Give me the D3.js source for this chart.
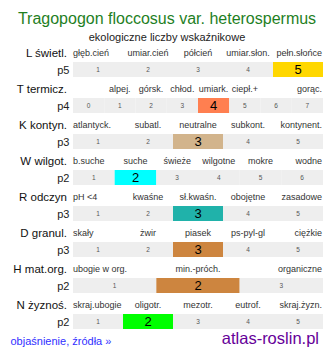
<!DOCTYPE html>
<html>
<head>
<meta charset="utf-8">
<script src="https://cdn.jsdelivr.net/npm/d3@7"></script>
<style>
  html, body { margin: 0; padding: 0; background: #fff; }
  svg { display: block; font-family: "Liberation Sans", Arial, sans-serif; }
</style>
</head>
<body>
<svg id="chart" width="334" height="358"></svg>
<script>
const title = "Tragopogon floccosus var. heterospermus";
const subtitle = "ekologiczne liczby wskaźnikowe";
const rowNames = ["L świetl.", "T termicz.", "K kontyn.", "W wilgot.", "R odczyn", "D granul.", "H mat.org.", "N żyznoś."];
const rowCodes = ["p5", "p4", "p3", "p2", "p3", "p3", "p2", "p2"];
const values = [5, 4, 3, 2, 3, 3, 2, 2];
const scaleMin = [1, 0, 1, 1, 1, 1, 1, 1];
const scaleMax = [5, 7, 5, 6, 5, 5, 3, 5];
const categoryLabels = [
  ["głęb.cień", "umiar.cień", "półcień", "umiar.słon.", "pełn.słońce"],
  ["", "alpej.", "górsk.", "chłod.", "umiark.", "ciepł.+", "", "gorąc."],
  ["atlantyck.", "subatl.", "neutralne", "subkont.", "kontynent."],
  ["b.suche", "suche", "świeże", "wilgotne", "mokre", "wodne"],
  ["pH <4", "kwaśne", "sł.kwaśn.", "obojętne", "zasadowe"],
  ["skały", "żwir", "piasek", "ps-pyl-gl", "ciężkie"],
  ["ubogie w org.", "min.-próch.", "organiczne"],
  ["skraj.ubogie", "oligotr.", "mezotr.", "eutrof.", "skraj.żyzn."]
];
const highlightColors = ["#ffd700", "#ff7f50", "#d2b48c", "#00ffff", "#20b2aa", "#cd853f", "#cd853f", "#00ff00"];
const footerLink = "objaśnienie, źródła »";
const footerSite = "atlas-roslin.pl";

const svg = d3.select("#chart");
const x0 = 73, x1 = 323, barH = 15;
const rowY = d3.scaleLinear().domain([0, 1]).range([62, 98]);

svg.append("text").attr("x", 167).attr("y", 24).attr("text-anchor", "middle")
  .attr("font-size", 16).attr("fill", "#1f7f1f").text(title);
svg.append("text").attr("x", 167).attr("y", 41).attr("text-anchor", "middle")
  .attr("font-size", 11).attr("fill", "#222").text(subtitle);

rowNames.forEach((name, i) => {
  const y = rowY(i);
  const dom = d3.range(scaleMin[i], scaleMax[i] + 1);
  const xs = d3.scaleBand().domain(dom).range([x0, x1]).padding(0);
  const g = svg.append("g");

  g.append("text").attr("x", 67).attr("y", y - 5).attr("text-anchor", "end")
    .attr("font-size", 11.5).attr("fill", "#111").text(name);
  g.append("text").attr("x", 69.5).attr("y", y + 12).attr("text-anchor", "end")
    .attr("font-size", 11).attr("fill", "#222").text(rowCodes[i]);

  const labs = categoryLabels[i];
  g.selectAll("text.cat").data(labs).enter().append("text")
    .attr("class", "cat")
    .attr("x", (d, j) => j === 0 ? x0 : (j === labs.length - 1 ? x1 - 1 : xs(dom[j]) + xs.bandwidth() / 2))
    .attr("text-anchor", (d, j) => j === 0 ? "start" : (j === labs.length - 1 ? "end" : "middle"))
    .attr("y", y - 6).attr("font-size", 9).attr("fill", "#333").text(d => d);

  g.selectAll("rect").data(dom).enter().append("rect")
    .attr("x", d => xs(d)).attr("y", y).attr("width", xs.bandwidth()).attr("height", barH)
    .attr("fill", d => d === values[i] ? highlightColors[i] : "#eeeeee");

  g.selectAll("text.num").data(dom).enter().append("text")
    .attr("class", "num")
    .attr("x", d => xs(d) + xs.bandwidth() / 2)
    .attr("y", d => d === values[i] ? y + 12 : y + 10)
    .attr("text-anchor", "middle")
    .attr("font-size", d => d === values[i] ? 13 : 6.5)
    .attr("fill", d => d === values[i] ? "#000" : "#555")
    .text(d => d);
});

svg.append("text").attr("x", 10.5).attr("y", 345).attr("font-size", 11)
  .attr("fill", "#2f2fff").text(footerLink);
svg.append("text").attr("x", 319).attr("y", 344).attr("text-anchor", "end")
  .attr("font-size", 16.5).attr("fill", "#660099").text(footerSite);
</script>
</body>
</html>
